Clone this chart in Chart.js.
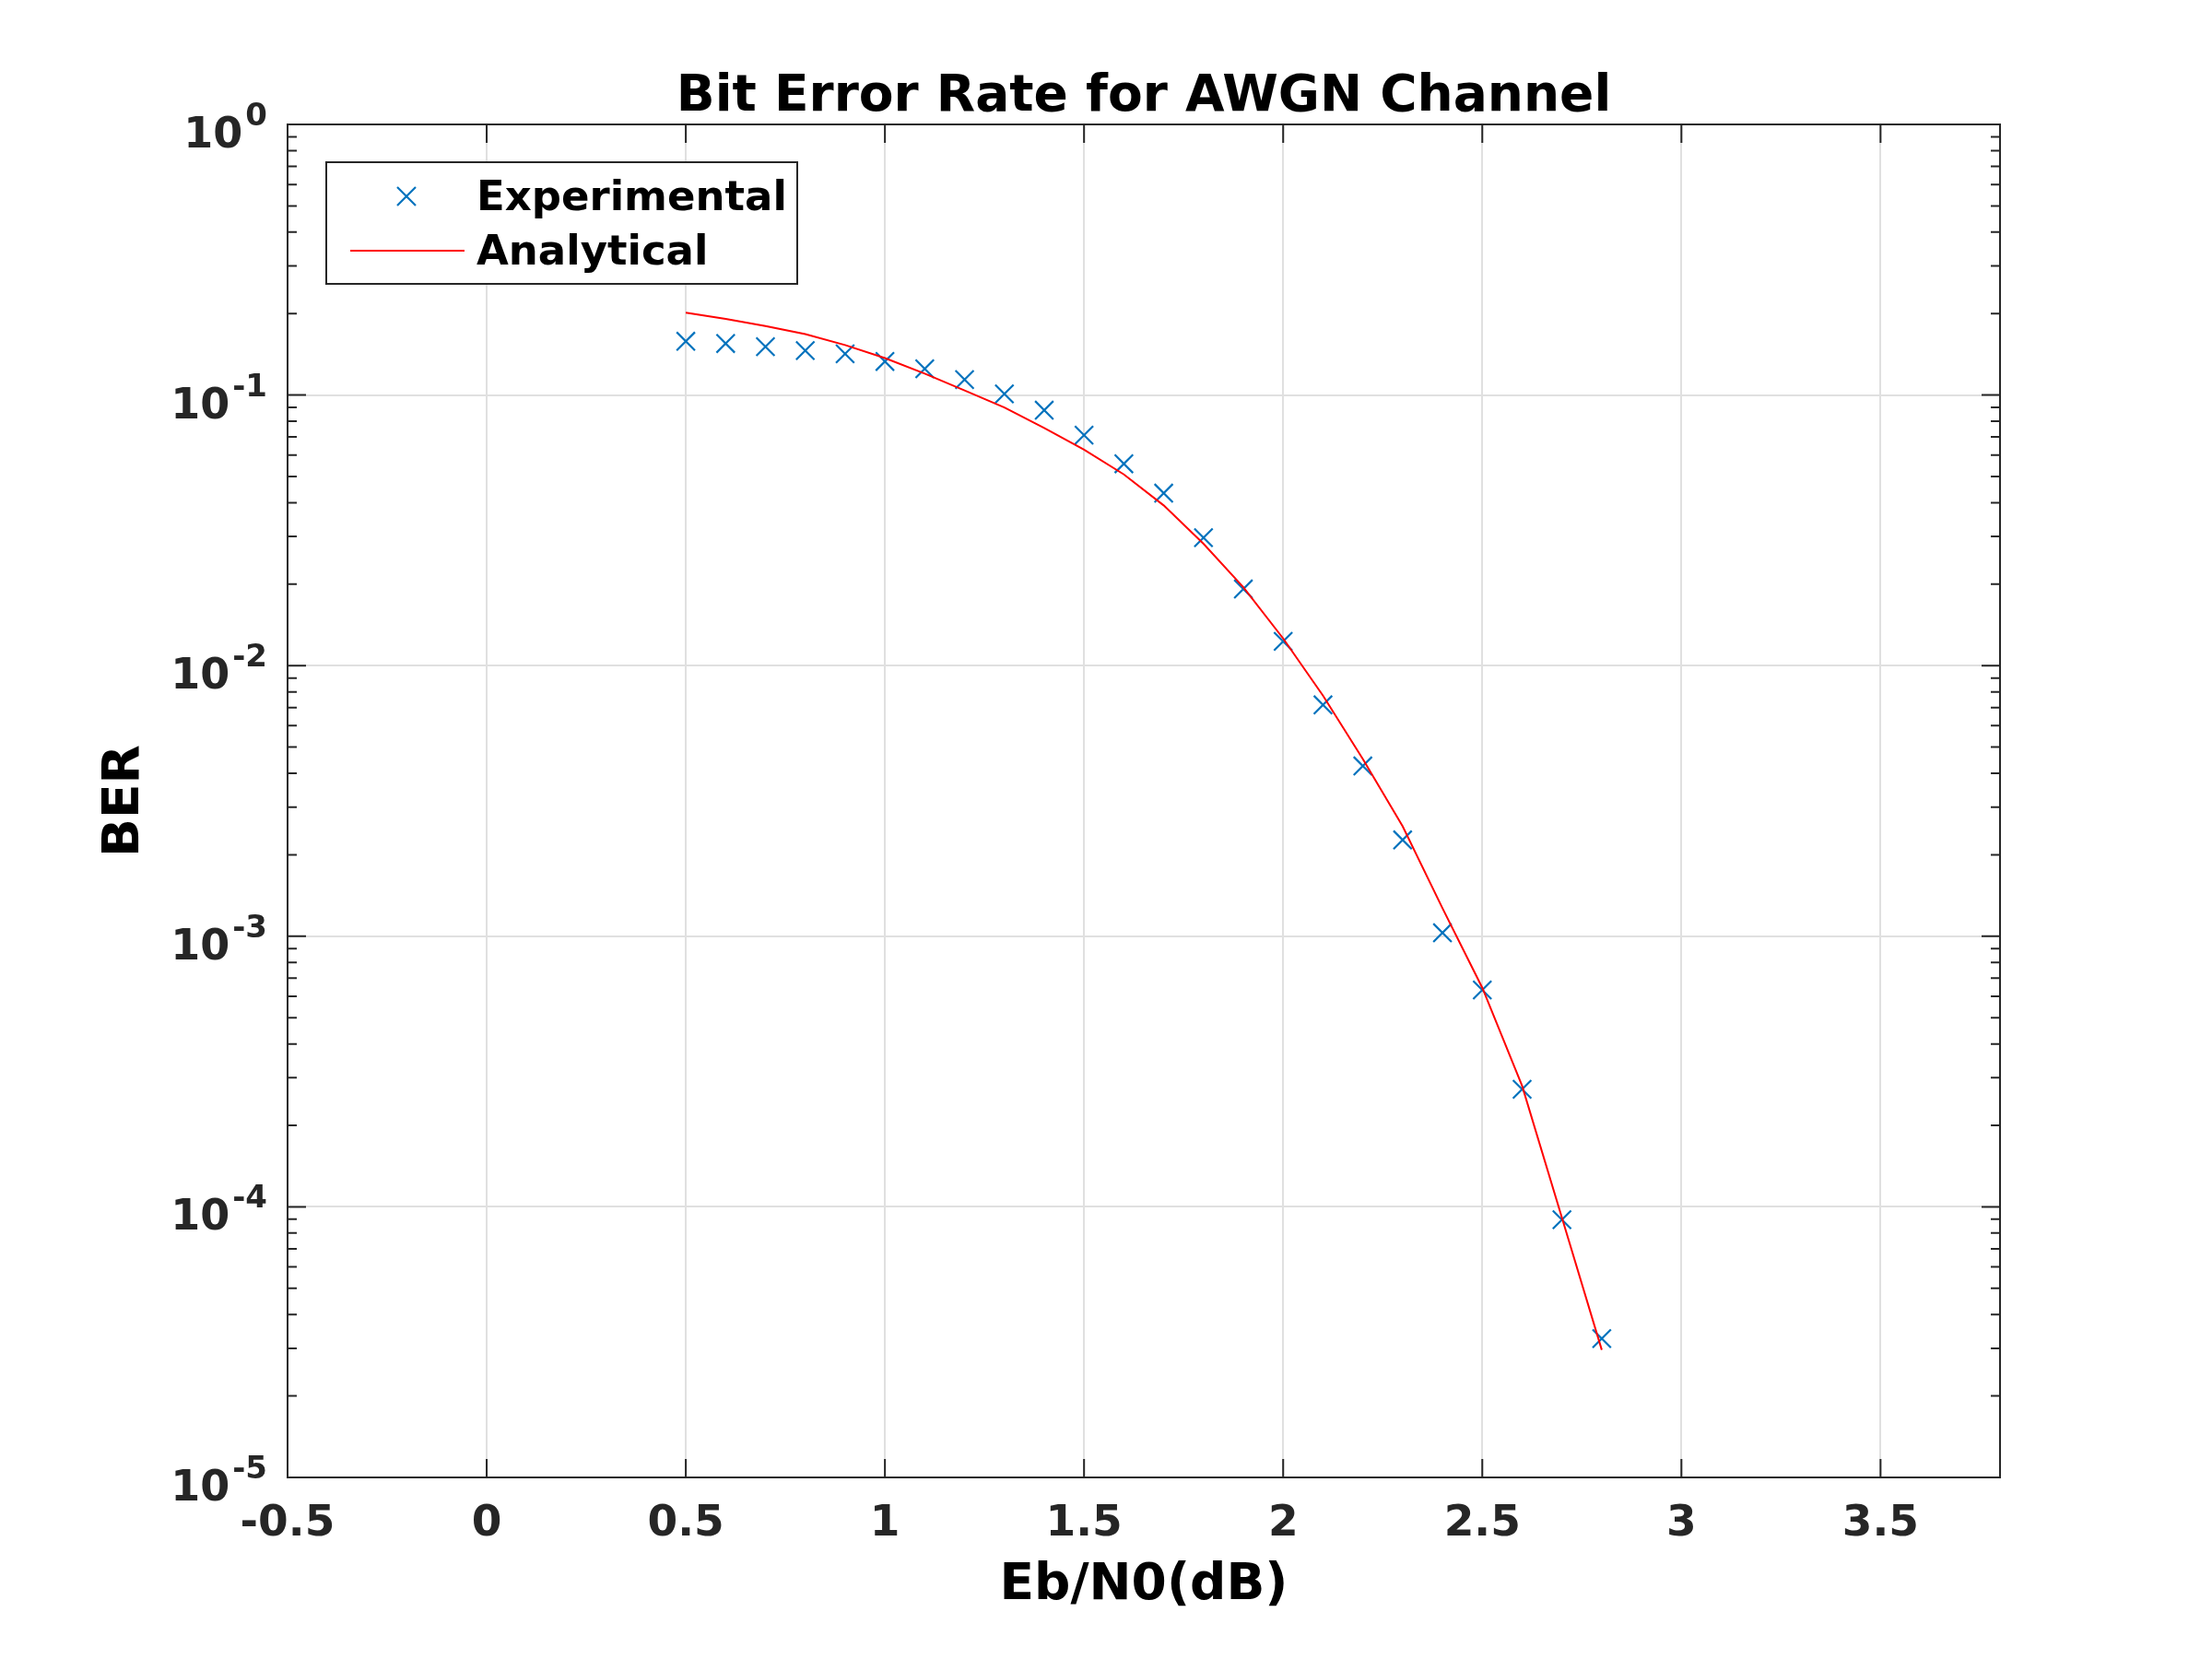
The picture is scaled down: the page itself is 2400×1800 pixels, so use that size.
<!DOCTYPE html>
<html>
<head>
<meta charset="utf-8">
<title>Bit Error Rate for AWGN Channel</title>
<script src="https://cdn.jsdelivr.net/npm/chart.js@4.4.1/dist/chart.umd.min.js"></script>
<style>
  html, body { margin: 0; padding: 0; background: #ffffff; }
  #wrap { width: 2400px; height: 1800px; }
</style>
</head>
<body>
<div id="wrap"><canvas id="chart" width="2400" height="1800"></canvas></div>
<script>
// Eb/N0 points (dB) and BER
const ebNoDb = [0.5, 0.6, 0.7, 0.8, 0.9, 1.0, 1.1, 1.2, 1.3, 1.4, 1.5, 1.6,
  1.7, 1.8, 1.9, 2.0, 2.1, 2.2, 2.3, 2.4, 2.5, 2.6, 2.7, 2.8];

const berExperimental = [0.158, 0.155, 0.151, 0.146, 0.142, 0.133, 0.125, 0.114,
  0.101, 0.0879, 0.0711, 0.0557, 0.0434, 0.0297, 0.0192, 0.0123, 0.00716, 0.00426,
  0.00227, 0.00103, 0.000633, 0.000272, 0.0000896, 0.0000326];

const berAnalytical = [0.2015, 0.191, 0.180, 0.168, 0.153, 0.137, 0.120, 0.104,
  0.0900, 0.0755, 0.0628, 0.0509, 0.0391, 0.0282, 0.0195, 0.0126, 0.00775, 0.00452,
  0.00255, 0.00127, 0.000645, 0.000280, 0.0000911, 0.0000296];

const yDecadeExponents = [0, -1, -2, -3, -4, -5];

const AXIS_COLOR = "#262626";
const GRID_COLOR = "#e0e0e0";
const FONT = "'DejaVu Sans', sans-serif";

function isDecade(value) {
  const l = Math.log10(value);
  return Math.abs(l - Math.round(l)) < 1e-6;
}

function isWholeMantissa(value) {
  const m = value / Math.pow(10, Math.floor(Math.log10(value) + 1e-9));
  return Math.abs(m - Math.round(m)) < 1e-6;
}

// frame, inward ticks, y labels with exponents, legend
const matlabAxes = {
  id: "matlabAxes",
  afterDraw(c) {
    const { ctx, chartArea: a, scales } = c;
    const xs = scales.x;
    const ys = scales.y;
    ctx.save();

    ctx.strokeStyle = AXIS_COLOR;
    ctx.lineWidth = 2;
    ctx.beginPath();
    xs.ticks.forEach((t) => {
      const px = xs.getPixelForValue(t.value);
      ctx.moveTo(px, a.bottom);
      ctx.lineTo(px, a.bottom - 20);
      ctx.moveTo(px, a.top);
      ctx.lineTo(px, a.top + 20);
    });
    ys.ticks.forEach((t) => {
      if (!isWholeMantissa(t.value)) {
        return;
      }
      const py = ys.getPixelForValue(t.value);
      const len = isDecade(t.value) ? 20 : 10;
      ctx.moveTo(a.left, py);
      ctx.lineTo(a.left + len, py);
      ctx.moveTo(a.right, py);
      ctx.lineTo(a.right - len, py);
    });
    ctx.stroke();
    ctx.strokeRect(a.left, a.top, a.right - a.left, a.bottom - a.top);

    // y tick labels: 10 with raised exponent
    ctx.fillStyle = AXIS_COLOR;
    ctx.textAlign = "right";
    ctx.textBaseline = "alphabetic";
    yDecadeExponents.forEach((e) => {
      const py = ys.getPixelForValue(Math.pow(10, e));
      const xr = a.left - 22;
      ctx.font = `bold 34px ${FONT}`;
      const expText = String(e);
      const ew = ctx.measureText(expText).width;
      ctx.fillText(expText, xr, py + 1);
      ctx.font = `bold 46px ${FONT}`;
      ctx.fillText("10", xr - ew - 3, py + 25);
    });

    // legend
    const lx = a.left + 42;
    const ly = a.top + 41;
    ctx.fillStyle = "#ffffff";
    ctx.fillRect(lx, ly, 511, 132);
    ctx.strokeStyle = AXIS_COLOR;
    ctx.lineWidth = 2;
    ctx.strokeRect(lx, ly, 511, 132);

    const [exp, ana] = c.data.datasets;
    const cx = lx + 87;
    const cy = ly + 37;
    const r = 10;
    ctx.strokeStyle = exp.borderColor;
    ctx.lineWidth = exp.pointBorderWidth;
    ctx.beginPath();
    ctx.moveTo(cx - r, cy - r);
    ctx.lineTo(cx + r, cy + r);
    ctx.moveTo(cx + r, cy - r);
    ctx.lineTo(cx - r, cy + r);
    ctx.stroke();

    ctx.strokeStyle = ana.borderColor;
    ctx.lineWidth = ana.borderWidth;
    ctx.beginPath();
    ctx.moveTo(lx + 26, ly + 96);
    ctx.lineTo(lx + 150, ly + 96);
    ctx.stroke();

    ctx.fillStyle = "#000000";
    ctx.textAlign = "left";
    ctx.font = `bold 45px ${FONT}`;
    ctx.fillText(exp.label, lx + 163, ly + 52);
    ctx.fillText(ana.label, lx + 163, ly + 111);

    ctx.restore();
  }
};

Chart.defaults.font.family = FONT;

const chart = new Chart(document.getElementById("chart"), {
  type: "scatter",
  data: {
    datasets: [
      {
        label: "Experimental",
        data: ebNoDb.map((x, i) => ({ x, y: berExperimental[i] })),
        showLine: false,
        pointStyle: "crossRot",
        pointRadius: 14,
        pointBorderWidth: 2.2,
        borderColor: "#0072BD",
        backgroundColor: "transparent",
        order: 1
      },
      {
        label: "Analytical",
        data: ebNoDb.map((x, i) => ({ x, y: berAnalytical[i] })),
        showLine: true,
        pointRadius: 0,
        borderColor: "#FF0000",
        borderWidth: 2,
        tension: 0,
        order: 0
      }
    ]
  },
  options: {
    responsive: false,
    animation: false,
    devicePixelRatio: 1,
    layout: { padding: { left: 0, right: 230, top: 0, bottom: 0 } },
    plugins: {
      legend: { display: false },
      tooltip: { enabled: false },
      title: {
        display: true,
        text: "Bit Error Rate for AWGN Channel",
        color: "#000000",
        fullSize: false,
        font: { size: 55, weight: "bold", lineHeight: 1 },
        padding: { top: 78, bottom: 2 }
      }
    },
    scales: {
      x: {
        type: "linear",
        min: -0.5,
        max: 3.8,
        afterFit(scale) { scale.height = 197; },
        ticks: {
          stepSize: 0.5,
          includeBounds: false,
          autoSkip: false,
          maxRotation: 0,
          padding: 23,
          color: AXIS_COLOR,
          font: { size: 47, weight: "bold" },
          callback: (v) => String(Number(v.toFixed(1)))
        },
        grid: { color: GRID_COLOR, lineWidth: 2, drawTicks: false },
        border: { display: false },
        title: {
          display: true,
          text: "Eb/N0(dB)",
          color: "#000000",
          font: { size: 55, weight: "bold" },
          padding: { top: 0, bottom: 46 }
        }
      },
      y: {
        type: "logarithmic",
        min: 1e-5,
        max: 1,
        afterFit(scale) { scale.width = 312; },
        ticks: { display: false, autoSkip: false },
        grid: {
          lineWidth: 2,
          drawTicks: false,
          color: (ctx) => (ctx.tick && isDecade(ctx.tick.value) ? GRID_COLOR : "rgba(0,0,0,0)")
        },
        border: { display: false },
        title: {
          display: true,
          text: "BER",
          color: "#000000",
          font: { size: 55, weight: "bold" },
          padding: { top: 103, bottom: 0 }
        }
      }
    }
  },
  plugins: [matlabAxes]
});
</script>
</body>
</html>
